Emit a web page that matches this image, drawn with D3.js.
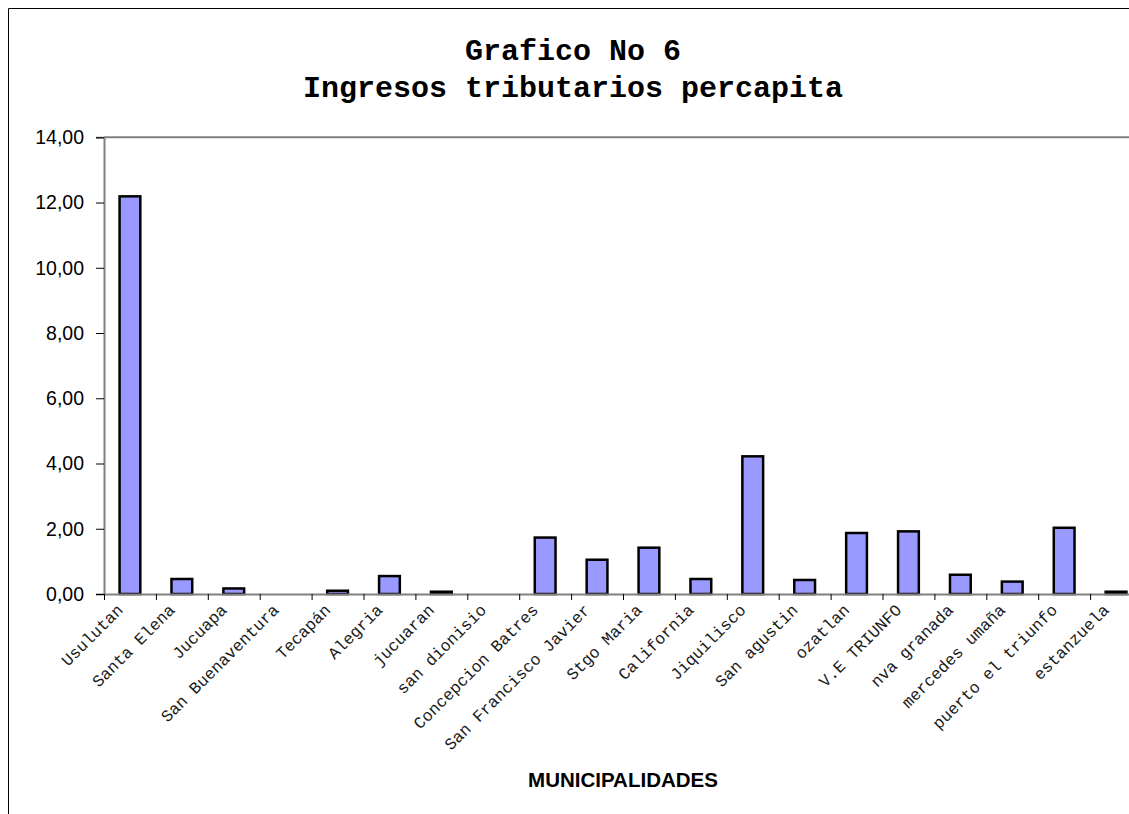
<!DOCTYPE html>
<html>
<head>
<meta charset="utf-8">
<script src="https://cdn.jsdelivr.net/npm/d3@7"></script>
<style>
  html, body { margin: 0; padding: 0; background: #fff; }
  svg { display: block; }
</style>
</head>
<body>
<svg id="chart" width="1129" height="814"></svg>
<script>
const categories = ["Usulutan", "Santa Elena", "Jucuapa", "San Buenaventura", "Tecapán", "Alegria",
  "jucuaran", "san dionisio", "Concepcion Batres", "San Francisco Javier", "Stgo Maria", "California",
  "Jiquilisco", "San agustin", "ozatlan", "V.E TRIUNFO", "nva granada", "mercedes umaña",
  "puerto el triunfo", "estanzuela"];
const values = [12.19, 0.46, 0.17, 0.0, 0.10, 0.55, 0.07, 0.0, 1.73, 1.05, 1.42, 0.46,
  4.22, 0.43, 1.87, 1.92, 0.59, 0.38, 2.03, 0.07];
const yTicks = [0, 2, 4, 6, 8, 10, 12, 14];
const titleLines = ["Grafico No 6", "Ingresos tributarios percapita"];
const xAxisTitle = "MUNICIPALIDADES";

(function () {
const svg = d3.select("#chart");
const pLeft = 104, pRight = 1142, pTop = 137.3, pBottom = 594;

// chart frame
svg.append("path").attr("d", "M8.5,814 V8.5 H1129").attr("fill", "none").attr("stroke", "#000").attr("stroke-width", 1);

const x = d3.scaleBand().domain(categories).range([pLeft, pRight]).paddingInner(0.6).paddingOuter(0.3);
const xIdx = d3.scaleLinear().domain([0, categories.length]).range([pLeft, pRight]);
const y = d3.scaleLinear().domain([0, 14]).range([pBottom, pTop]);

const loc = d3.formatLocale({decimal: ",", thousands: ".", grouping: [3], currency: ["", ""]});
const fmt = loc.format(".2f");

// top gridline (plot area border at max)
svg.append("line").attr("x1", pLeft).attr("x2", 1129).attr("y1", y(14)).attr("y2", y(14))
  .attr("stroke", "#808080").attr("stroke-width", 2);

// bars
svg.append("g").selectAll("rect").data(values).join("rect")
  .attr("x", (d, i) => x(categories[i]))
  .attr("width", x.bandwidth())
  .attr("y", d => y(d))
  .attr("height", d => y(0) - y(d))
  .attr("fill", "#9999FF")
  .attr("stroke", d => d > 0 ? "#000" : "none")
  .attr("stroke-width", 2.5);

// y axis
const yAxis = d3.axisLeft(y).tickValues(yTicks).tickFormat(fmt).tickSize(8).tickPadding(12);
const gy = svg.append("g").attr("transform", `translate(${pLeft},0)`).call(yAxis);
gy.select(".domain").attr("stroke", "#808080").attr("stroke-width", 2);
gy.selectAll(".tick line").attr("stroke", "#000").attr("stroke-width", 1);
gy.selectAll(".tick text").attr("font-family", "Liberation Sans, Arial, sans-serif").attr("font-size", "19.5px").attr("fill", "#000");

// x axis (ticks at category boundaries)
const xAxis = d3.axisBottom(xIdx).tickValues(d3.range(0, categories.length + 1)).tickFormat("").tickSize(6).tickSizeOuter(0);
const gx = svg.append("g").attr("transform", `translate(0,${pBottom})`).call(xAxis);
gx.select(".domain").attr("stroke", "#808080").attr("stroke-width", 2);
gx.selectAll(".tick line").attr("stroke", "#000").attr("stroke-width", 1);

// x labels
svg.append("g").selectAll("text").data(categories).join("text")
  .attr("transform", d => `translate(${x(d) + x.bandwidth() / 2 - 6},${pBottom + 17}) rotate(-45)`)
  .attr("text-anchor", "end")
  .attr("font-family", "Liberation Mono, Courier New, monospace")
  .attr("font-size", "16.5px")
  .attr("fill", "#1a1a1a")
  .text(d => d);

// title
svg.append("g").selectAll("text").data(titleLines).join("text")
  .attr("x", 573).attr("y", (d, i) => 60 + i * 37)
  .attr("text-anchor", "middle")
  .attr("font-family", "Liberation Mono, Courier New, monospace")
  .attr("font-weight", "bold")
  .attr("font-size", "30px")
  .attr("fill", "#000")
  .text(d => d);

// x axis title
svg.append("text").attr("x", (pLeft + pRight) / 2).attr("y", 787)
  .attr("text-anchor", "middle")
  .attr("font-family", "Liberation Sans, Arial, sans-serif")
  .attr("font-weight", "bold")
  .attr("font-size", "20.5px")
  .attr("fill", "#000")
  .text(xAxisTitle);
})();
</script>
</body>
</html>
